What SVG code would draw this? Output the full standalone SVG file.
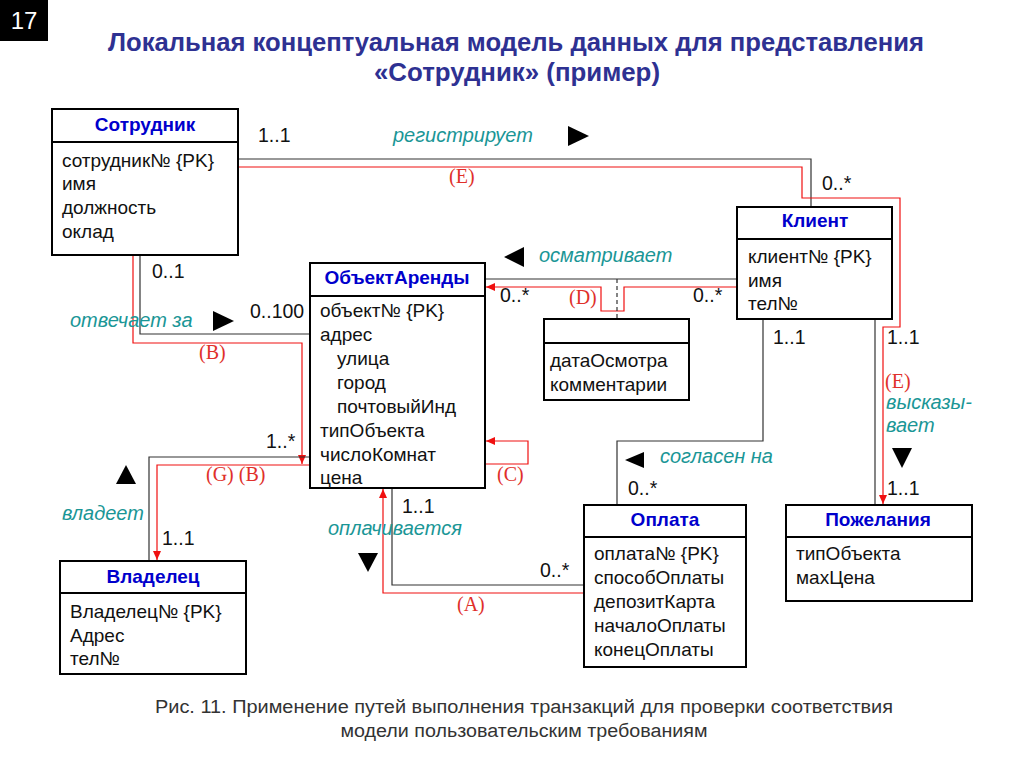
<svg xmlns="http://www.w3.org/2000/svg" width="1024" height="768" viewBox="0 0 1024 768">
<style>
.box{fill:#fff;stroke:#000;stroke-width:2}
.hd{font-family:"Liberation Sans",Arial,sans-serif;font-size:19px;font-weight:bold;fill:#0000cc;text-anchor:middle}
.at{font-family:"Liberation Sans",Arial,sans-serif;font-size:19px;fill:#111}
.ml{font-family:"Liberation Sans",Arial,sans-serif;font-size:19.5px;fill:#111}
.rl{font-family:"Liberation Serif","Times New Roman",serif;font-size:20px;fill:#e0302a}
.as{font-family:"Liberation Sans",Arial,sans-serif;font-size:20px;font-style:italic;fill:#1a9696}
.bk{fill:none;stroke:#333;stroke-width:1.2}
.rd{fill:none;stroke:#f01010;stroke-width:1.2}
.tri{fill:#000}
.title{font-family:"Liberation Sans Narrow","Liberation Sans",Arial,sans-serif;font-size:25px;font-weight:bold;fill:#2e3192;text-anchor:middle}
.cap{font-family:"Liberation Sans Narrow","Liberation Sans",Arial,sans-serif;font-size:18px;fill:#333;text-anchor:middle}
</style>
<defs>
<marker id="ra" markerWidth="10" markerHeight="10" refX="9" refY="5" orient="auto" markerUnits="userSpaceOnUse">
<path d="M0,1 L9,5 L0,9 z" fill="#f01010"/>
</marker>
</defs>
<rect x="0" y="0" width="48" height="41" fill="#000"/>
<text x="24" y="29" font-family="Liberation Sans Narrow,Liberation Sans,sans-serif" font-size="24" fill="#fff" text-anchor="middle">17</text>
<text class="title" x="516" y="51" textLength="816" lengthAdjust="spacingAndGlyphs">Локальная концептуальная модель данных для представления</text>
<text class="title" x="517" y="81" textLength="286" lengthAdjust="spacingAndGlyphs">«Сотрудник» (пример)</text>

<g id="connectors">
<polyline class="bk" points="238,159 811,159 811,207"/>
<polyline class="rd" points="238,167 802,167 802,198 900,198 900,327 883,327 883,504" marker-end="url(#ra)"/>
<line class="bk" x1="485" y1="279" x2="737" y2="279"/>
<polyline class="rd" points="737,287 624,287 624,311 601,311 601,287 486,287" marker-end="url(#ra)"/>
<line class="bk" x1="617" y1="279" x2="617" y2="319" stroke-dasharray="4,3"/>
<polyline class="bk" points="140,255 140,334 310,334"/>
<polyline class="rd" points="133,255 133,343 302,343 302,464" marker-end="url(#ra)"/>
<polyline class="bk" points="310,457 149,457 149,561"/>
<polyline class="rd" points="310,465 157,465 157,560" marker-end="url(#ra)"/>
<polyline class="rd" points="485,464 528,464 528,441 486,441" marker-end="url(#ra)"/>
<polyline class="bk" points="392,488 392,585 584,585"/>
<polyline class="rd" points="584,593 383,593 383,489" marker-end="url(#ra)"/>
<polyline class="bk" points="763,319 763,441 617,441 617,505"/>
<line class="bk" x1="875" y1="319" x2="875" y2="505"/>
</g>

<g id="labels">
<text class="ml" x="258" y="142">1..1</text>
<text class="as" x="393" y="142">регистрирует</text>
<polygon class="tri" points="568,126 568,146 589,136"/>
<text class="rl" x="449" y="183">(E)</text>
<text class="ml" x="822" y="190">0..*</text>

<polygon class="tri" points="524,247 524,267 504,257"/>
<text class="as" x="539" y="262">осматривает</text>
<text class="ml" x="500" y="302">0..*</text>
<text class="rl" x="569" y="304">(D)</text>
<text class="ml" x="693" y="302">0..*</text>

<text class="ml" x="152" y="278">0..1</text>
<text class="ml" x="250" y="318">0..100</text>
<text class="as" x="70" y="327">отвечает за</text>
<polygon class="tri" points="213,311 213,331 234,321"/>
<text class="rl" x="199" y="359">(B)</text>

<text class="ml" x="266" y="448">1..*</text>
<text class="rl" x="206" y="481">(G) (B)</text>
<polygon class="tri" points="126,465 136,484 116,484"/>
<text class="as" x="62" y="520">владеет</text>
<text class="ml" x="162" y="545">1..1</text>

<text class="rl" x="497" y="481">(C)</text>
<text class="ml" x="402" y="513">1..1</text>
<text class="as" x="328" y="535">оплачивается</text>
<polygon class="tri" points="358,553 378,553 368,572"/>
<text class="ml" x="540" y="577">0..*</text>
<text class="rl" x="457" y="611">(A)</text>

<polygon class="tri" points="644,452 644,468 625,460"/>
<text class="as" x="660" y="463">согласен на</text>
<text class="ml" x="628" y="495">0..*</text>

<text class="ml" x="773" y="344">1..1</text>
<text class="ml" x="887" y="344">1..1</text>
<text class="rl" x="885" y="388">(E)</text>
<text class="as" x="886" y="409">высказы-</text>
<text class="as" x="886" y="432">вает</text>
<polygon class="tri" points="892,448 912,448 902,468"/>
<text class="ml" x="887" y="495">1..1</text>
</g>

<g id="sotrudnik">
<rect class="box" x="52" y="109" width="186" height="146"/>
<line x1="52" y1="142" x2="238" y2="142" stroke="#000" stroke-width="2"/>
<text class="hd" x="145" y="131">Сотрудник</text>
<text class="at" x="62" y="167">сотрудник№ {PK}</text>
<text class="at" x="62" y="190">имя</text>
<text class="at" x="62" y="214">должность</text>
<text class="at" x="62" y="238">оклад</text>
</g>

<g id="klient">
<rect class="box" x="737" y="207" width="155" height="112"/>
<line x1="737" y1="239" x2="892" y2="239" stroke="#000" stroke-width="2"/>
<text class="hd" x="815" y="227">Клиент</text>
<text class="at" x="748" y="263">клиент№ {PK}</text>
<text class="at" x="748" y="287">имя</text>
<text class="at" x="748" y="310">тел№</text>
</g>

<g id="obekt">
<rect class="box" x="310" y="263" width="175" height="225"/>
<line x1="310" y1="296" x2="485" y2="296" stroke="#000" stroke-width="2"/>
<text class="hd" x="397" y="284">ОбъектАренды</text>
<text class="at" x="320" y="317">объект№ {PK}</text>
<text class="at" x="320" y="341">адрес</text>
<text class="at" x="337" y="365">улица</text>
<text class="at" x="337" y="389">город</text>
<text class="at" x="337" y="413">почтовыйИнд</text>
<text class="at" x="320" y="437">типОбъекта</text>
<text class="at" x="320" y="461">числоКомнат</text>
<text class="at" x="320" y="484">цена</text>
</g>

<g id="osmotr">
<rect class="box" x="544" y="319" width="145" height="81"/>
<line x1="544" y1="343" x2="689" y2="343" stroke="#000" stroke-width="2"/>
<text class="at" x="550" y="367">датаОсмотра</text>
<text class="at" x="550" y="391">комментарии</text>
</g>

<g id="vladelec">
<rect class="box" x="60" y="561" width="186" height="113"/>
<line x1="60" y1="593" x2="246" y2="593" stroke="#000" stroke-width="2"/>
<text class="hd" x="153" y="583">Владелец</text>
<text class="at" x="70" y="618">Владелец№ {PK}</text>
<text class="at" x="70" y="642">Адрес</text>
<text class="at" x="70" y="665">тел№</text>
</g>

<g id="oplata">
<rect class="box" x="584" y="505" width="162" height="162"/>
<line x1="584" y1="537" x2="746" y2="537" stroke="#000" stroke-width="2"/>
<text class="hd" x="665" y="526">Оплата</text>
<text class="at" x="594" y="560">оплата№ {PK}</text>
<text class="at" x="594" y="584">способОплаты</text>
<text class="at" x="594" y="608">депозитКарта</text>
<text class="at" x="594" y="632">началоОплаты</text>
<text class="at" x="594" y="656">конецОплаты</text>
</g>

<g id="pozhelaniya">
<rect class="box" x="786" y="505" width="186" height="96"/>
<line x1="786" y1="537" x2="972" y2="537" stroke="#000" stroke-width="2"/>
<text class="hd" x="878" y="526">Пожелания</text>
<text class="at" x="796" y="560">типОбъекта</text>
<text class="at" x="796" y="584">махЦена</text>
</g>

<text class="cap" x="524" y="713" textLength="738" lengthAdjust="spacingAndGlyphs">Рис. 11. Применение  путей выполнения  транзакций  для проверки соответствия</text>
<text class="cap" x="524" y="737" textLength="367" lengthAdjust="spacingAndGlyphs">модели пользовательским требованиям</text>
</svg>
